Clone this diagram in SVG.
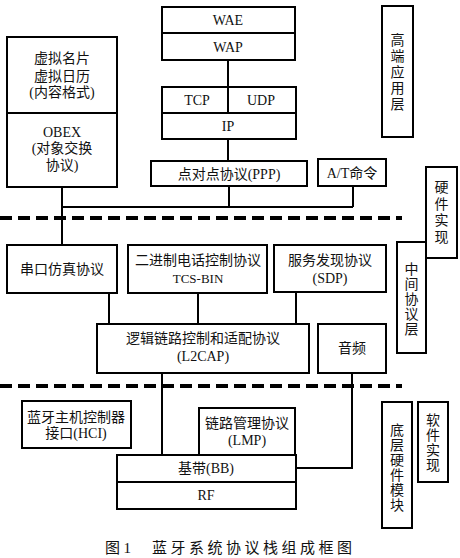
<svg xmlns="http://www.w3.org/2000/svg" width="460" height="558" viewBox="0 0 460 558">
<style>
.b{fill:#fff;stroke:#000;stroke-width:2}
.l{fill:none;stroke:#000;stroke-width:2}
.d{fill:none;stroke:#000;stroke-width:4;stroke-dasharray:12 6}
text{font-family:"Liberation Serif","Noto Sans CJK SC",serif;font-size:14px;fill:#111;text-anchor:middle}
.v{font-family:"Noto Sans CJK SC",sans-serif;font-size:14px;writing-mode:vertical-rl;text-orientation:upright}
.cap{font-size:15px;letter-spacing:3.5px;text-anchor:start;font-family:"Liberation Serif","Noto Sans CJK SC",serif}
</style>
<rect width="460" height="558" fill="#fff"/>
<g id="connectors">
<line class="l" x1="228" y1="60" x2="228" y2="87"/>
<line class="l" x1="228" y1="139" x2="228" y2="161"/>
<polyline class="l" points="62,187 62,245"/>
<line class="l" x1="62" y1="207" x2="353" y2="207"/>
<line class="l" x1="229" y1="186" x2="229" y2="207"/>
<line class="l" x1="353" y1="186" x2="353" y2="207"/>
<line class="l" x1="109" y1="293" x2="109" y2="324"/>
<line class="l" x1="198" y1="293" x2="198" y2="324"/>
<line class="l" x1="296" y1="292" x2="296" y2="324"/>
<line class="l" x1="162" y1="373" x2="162" y2="455"/>
<polyline class="l" points="352,373 352,468 296,468"/>
<line class="d" x1="0" y1="218" x2="402" y2="218"/>
<line class="d" x1="0" y1="386" x2="402" y2="386"/>
</g>
<g id="wae-wap">
<rect class="b" x="162" y="7" width="133" height="53"/>
<line class="l" x1="162" y1="33" x2="295" y2="33"/>
<text x="228" y="25">WAE</text>
<text x="228" y="52">WAP</text>
</g>
<g id="tcp-udp-ip">
<rect class="b" x="162" y="87" width="134" height="52"/>
<line class="l" x1="162" y1="113" x2="296" y2="113"/>
<line class="l" x1="228" y1="87" x2="228" y2="113"/>
<text x="197" y="105">TCP</text>
<text x="261" y="105">UDP</text>
<text x="228" y="131">IP</text>
</g>
<g id="ppp">
<rect class="b" x="151" y="161" width="156" height="25"/>
<text x="229" y="179">点对点协议(PPP)</text>
</g>
<g id="at">
<rect class="b" x="318" y="159" width="68" height="27"/>
<text x="352" y="178">A/T命令</text>
</g>
<g id="vcard-obex">
<rect class="b" x="7" y="37" width="110" height="150"/>
<line class="l" x1="7" y1="113" x2="117" y2="113"/>
<text x="62" y="63">虚拟名片</text>
<text x="62" y="81">虚拟日历</text>
<text x="62" y="97">(内容格式)</text>
<text x="62" y="137">OBEX</text>
<text x="62" y="153">(对象交换</text>
<text x="62" y="170">协议)</text>
</g>
<g id="high-layer">
<rect class="b" x="382" y="6" width="31" height="131"/>
<text class="v" x="397.5" y="73" style="letter-spacing:2px">高端应用层</text>
</g>
<g id="hw-impl">
<rect class="b" x="426" y="167" width="31" height="91"/>
<text class="v" x="441.5" y="213" style="letter-spacing:2.5px">硬件实现</text>
</g>
<g id="serial">
<rect class="b" x="7" y="245" width="110" height="48"/>
<text x="62" y="274">串口仿真协议</text>
</g>
<g id="tcs">
<rect class="b" x="128" y="245" width="139" height="48"/>
<text x="198" y="265">二进制电话控制协议</text>
<text x="198" y="283" style="font-size:13px">TCS-BIN</text>
</g>
<g id="sdp">
<rect class="b" x="274" y="245" width="112" height="47"/>
<text x="330" y="265">服务发现协议</text>
<text x="330" y="283">(SDP)</text>
</g>
<g id="mid-layer">
<rect class="b" x="397" y="242" width="29" height="111"/>
<text class="v" x="411.5" y="299" style="letter-spacing:1px">中间协议层</text>
</g>
<g id="l2cap">
<rect class="b" x="97" y="324" width="212" height="49"/>
<text x="203" y="343">逻辑链路控制和适配协议</text>
<text x="203" y="361">(L2CAP)</text>
</g>
<g id="audio">
<rect class="b" x="318" y="324" width="68" height="49"/>
<text x="352" y="353">音频</text>
</g>
<g id="hci">
<rect class="b" x="22" y="401" width="109" height="47"/>
<text x="76" y="422">蓝牙主机控制器</text>
<text x="76" y="438">接口(HCI)</text>
</g>
<g id="lmp">
<rect class="b" x="199" y="408" width="96" height="47"/>
<text x="247" y="428">链路管理协议</text>
<text x="247" y="445">(LMP)</text>
</g>
<g id="bb-rf">
<rect class="b" x="117" y="455" width="179" height="54"/>
<line class="l" x1="117" y1="482" x2="296" y2="482"/>
<text x="206" y="473">基带(BB)</text>
<text x="206" y="500">RF</text>
</g>
<g id="low-hw">
<rect class="b" x="382" y="402" width="30" height="126"/>
<text class="v" x="397" y="468" style="letter-spacing:1px">底层硬件模块</text>
</g>
<g id="sw-impl">
<rect class="b" x="418" y="402" width="30" height="80"/>
<text class="v" x="433" y="443" style="letter-spacing:1px">软件实现</text>
</g>
<g id="caption">
<text class="cap" x="105" y="553">图1</text>
<text class="cap" x="152" y="553">蓝牙系统协议栈组成框图</text>
</g>
</svg>
